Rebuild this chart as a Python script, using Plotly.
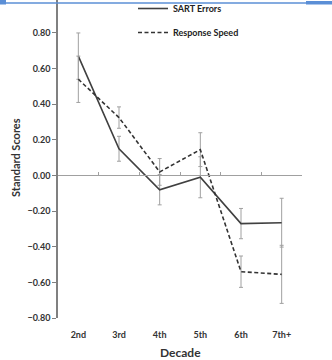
import plotly.graph_objects as go

decades = ["2nd", "3rd", "4th", "5th", "6th", "7th+"]
sart_errors = [0.67, 0.15, -0.08, -0.01, -0.27, -0.265]
sart_err = [0.13, 0.07, 0.085, 0.115, 0.085, 0.137]
resp_speed = [0.54, 0.325, 0.02, 0.145, -0.54, -0.555]
resp_err = [0.13, 0.06, 0.075, 0.095, 0.088, 0.163]

xpos = list(range(1, len(decades) + 1))
W, H = 332, 360
ML, MR, MT, MB = 58, 30, 0, 42
pw, ph = W - ML - MR, H - MT - MB

ymin, ymax = -0.8, 0.985

fig = go.Figure()
fig.add_trace(go.Scatter(
    x=xpos, y=sart_errors, mode="lines", name="SART Errors",
    line=dict(color="#404040", width=1.6),
    error_y=dict(type="data", array=sart_err, color="#a0a0a0", thickness=1, width=2),
    legendgroup="a"))
fig.add_trace(go.Scatter(
    x=xpos, y=resp_speed, mode="lines", name="Response Speed",
    line=dict(color="#333333", width=1.6, dash="4px,2.5px"),
    error_y=dict(type="data", array=resp_err, color="#a0a0a0", thickness=1, width=2),
    legendgroup="b"))
# empty trace so the zero-crossing axis (x2) is drawn
fig.add_trace(go.Scatter(x=[None], y=[None], xaxis="x2", showlegend=False,
                         hoverinfo="skip", mode="lines"))

font = "Lato, 'Open Sans', sans-serif"
yfrac0 = (0 - ymin) / (ymax - ymin)

fig.update_layout(
    width=W, height=H,
    margin=dict(l=ML, r=MR, t=MT, b=MB, autoexpand=False),
    paper_bgcolor="white", plot_bgcolor="white",
    font=dict(family=font, color="#333333", size=9),
    showlegend=True,
    legend=dict(x=(133 - ML) / pw, y=1.0 + 6 / ph,
                xanchor="left", yanchor="top",
                bgcolor="rgba(0,0,0,0)", tracegroupgap=5,
                font=dict(size=9, color="#222222", weight="bold"), itemwidth=30),
    xaxis=dict(range=[0.5, 6.5], tickvals=xpos, ticktext=decades,
               showgrid=False, zeroline=False, showline=False,
               ticks="outside", ticklen=8, tickcolor="rgba(0,0,0,0)",
               tickfont=dict(size=9, color="#333333", family=font, weight="bold")),
    xaxis2=dict(range=[0.5, 6.5], overlaying="x", anchor="free", position=yfrac0,
                side="bottom", showline=True, linecolor="#a0a0a0", linewidth=1,
                tickvals=[1.5, 2.5, 3.5, 4.5, 5.5, 6.5], ticks="inside", ticklen=3,
                tickcolor="#a0a0a0", showticklabels=False, showgrid=False, zeroline=False),
    yaxis=dict(range=[ymin, ymax], tickvals=[-0.8, -0.6, -0.4, -0.2, 0, 0.2, 0.4, 0.6, 0.8],
               tickformat=".2f", showgrid=False, zeroline=False,
               showline=True, linecolor="#808080", linewidth=1.5,
               ticks="outside", ticklen=4, tickcolor="#808080",
               tickfont=dict(size=9, color="#333333", family=font, weight="bold")),
    shapes=[
        dict(type="line", xref="paper", yref="paper",
             x0=-ML / pw, x1=(W - ML) / pw, y0=1 - 3 / ph, y1=1 - 3 / ph,
             line=dict(color="#5b8fd6", width=1.5)),
        dict(type="rect", xref="paper", yref="paper",
             x0=-ML / pw, x1=(6 - ML) / pw, y0=1 - 4.5 / ph, y1=1,
             line=dict(width=0), fillcolor="#5b8fd6"),
        dict(type="rect", xref="paper", yref="paper",
             x0=(306 - ML) / pw, x1=(W - ML) / pw, y0=1 - 4.5 / ph, y1=1 - 1 / ph,
             line=dict(width=0), fillcolor="#5b8fd6"),
    ],
    annotations=[
        dict(text="<b>Decade</b>", xref="paper", yref="paper",
             x=0.5, y=-(352 - MT - ph) / ph, xanchor="center", yanchor="middle",
             showarrow=False, font=dict(size=12, color="#333333", family=font)),
        dict(text="<b>Standard Scores</b>", xref="paper", yref="paper",
             x=(15 - ML) / pw, y=1 - 158 / ph, xanchor="center", yanchor="middle",
             textangle=-90, showarrow=False,
             font=dict(size=11, color="#333333", family=font)),
    ],
)

fig.write_html("out.html")
